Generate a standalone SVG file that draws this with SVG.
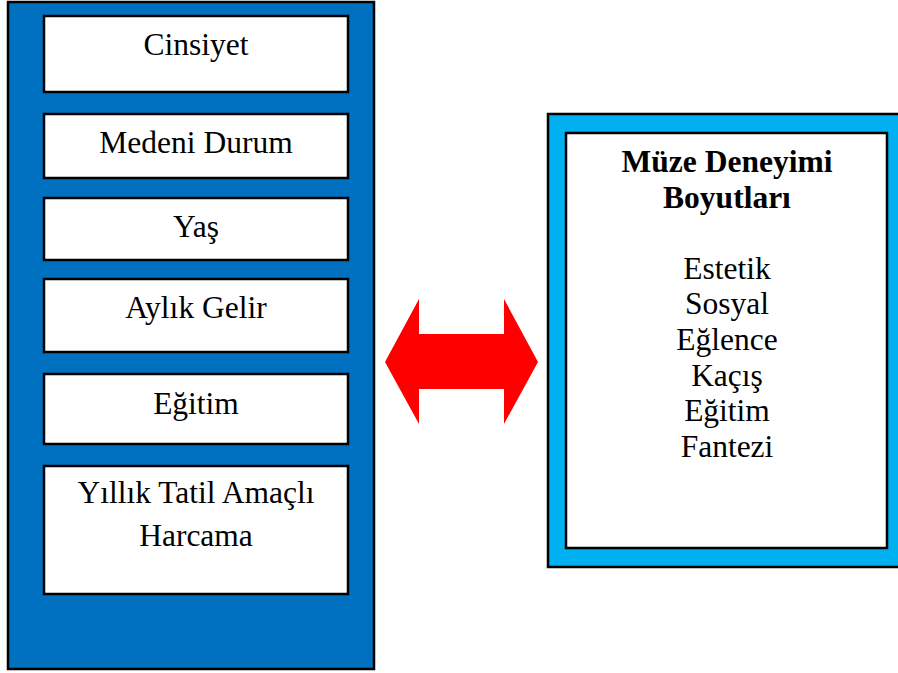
<svg xmlns="http://www.w3.org/2000/svg" width="898" height="673" viewBox="0 0 898 673">
<style>
text{font-family:'Liberation Serif','Times New Roman',serif;font-size:31.5px;fill:#000;text-anchor:middle}
.b{font-weight:bold}
.box{fill:#fff;stroke:#000;stroke-width:2.5}
</style>
<rect width="898" height="673" fill="#fff"/>
<g id="left-panel">
<rect x="8" y="2" width="366" height="667" fill="#0070C0" stroke="#000" stroke-width="2.5"/>
</g>
<g id="cinsiyet"><rect class="box" x="44" y="16" width="304" height="76"/><text x="196" y="55">Cinsiyet</text></g>
<g id="medeni"><rect class="box" x="44" y="114" width="304" height="64"/><text x="196" y="153">Medeni Durum</text></g>
<g id="yas"><rect class="box" x="44" y="198" width="304" height="62"/><text x="196" y="237">Yaş</text></g>
<g id="gelir"><rect class="box" x="44" y="279" width="304" height="73"/><text x="196" y="318">Aylık Gelir</text></g>
<g id="egitim"><rect class="box" x="44" y="374" width="304" height="70"/><text x="196" y="414">Eğitim</text></g>
<g id="harcama"><rect class="box" x="44" y="466" width="304" height="128"/><text x="196" y="503">Yıllık Tatil Amaçlı</text><text x="196" y="546">Harcama</text></g>
<g id="connectors">
<polygon points="385,362 419,299 419,334 504,334 504,299 538,362 504,424 504,389 419,389 419,424" fill="#FF0000"/>
</g>
<g id="right-panel">
<rect x="548" y="114" width="352" height="453" fill="#00B0F0" stroke="#000" stroke-width="2.5"/>
<rect class="box" x="566" y="133" width="321" height="415"/>
<text class="b" x="727" y="172">Müze Deneyimi</text>
<text class="b" x="727" y="208">Boyutları</text>
<text x="727" y="279">Estetik</text>
<text x="727" y="314">Sosyal</text>
<text x="727" y="350">Eğlence</text>
<text x="727" y="386">Kaçış</text>
<text x="727" y="421">Eğitim</text>
<text x="727" y="457">Fantezi</text>
</g>
</svg>
